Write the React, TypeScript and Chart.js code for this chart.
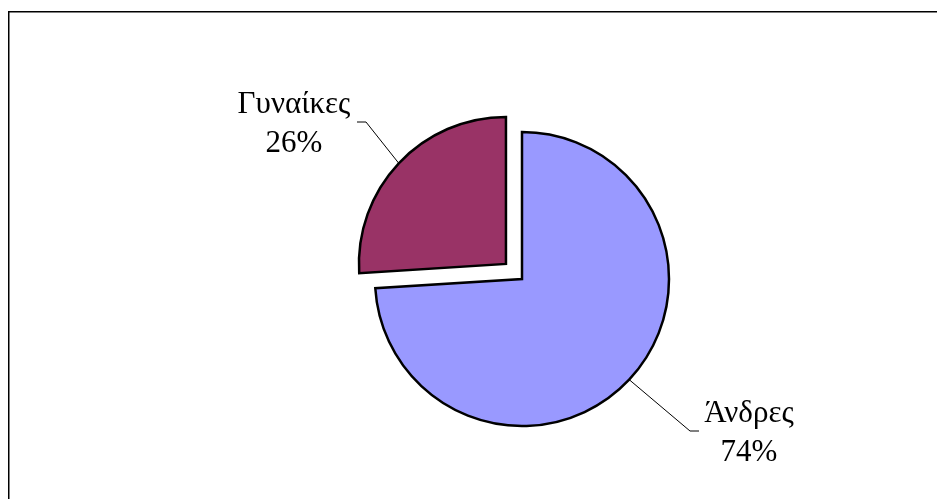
import React, { useEffect, useRef } from "react";
import { Chart, registerables } from "chart.js";

Chart.register(...registerables);

const categories = ["Άνδρες", "Γυναίκες"];
const values = [74, 26];
const percentLabels = ["74%", "26%"];
const colors = ["#9999FF", "#993366"];

// label text anchors (centre x, first baseline y) and leader elbow points
const labelLayout = [
  { tx: 749, ty: 422, ex: 690, ey: 431, hx: 699 },
  { tx: 294, ty: 113, ex: 366, ey: 122, hx: 357 },
];

const labelPlugin = {
  id: "labels",
  afterDraw(chart: any) {
    const ctx = chart.ctx;
    const meta = chart.getDatasetMeta(0);
    ctx.save();
    // outer frame
    ctx.strokeStyle = "#000";
    ctx.lineWidth = 1.5;
    ctx.strokeRect(8.75, 11.75, 2000, 2000);
    meta.data.forEach((arc: any, i: number) => {
      const { x, y, startAngle, endAngle, outerRadius } = arc.getProps(
        ["x", "y", "startAngle", "endAngle", "outerRadius"],
        true
      );
      const mid = (startAngle + endAngle) / 2;
      const off = (arc.options.offset || 0) / 4;
      const cx = x + Math.cos(mid) * off;
      const cy = y + Math.sin(mid) * off;
      const sx = cx + Math.cos(mid) * outerRadius;
      const sy = cy + Math.sin(mid) * outerRadius;
      const L = labelLayout[i];
      ctx.strokeStyle = "#000";
      ctx.lineWidth = 1;
      ctx.beginPath();
      ctx.moveTo(sx, sy);
      ctx.lineTo(L.ex, L.ey);
      ctx.lineTo(L.hx, L.ey);
      ctx.stroke();
      ctx.fillStyle = "#000";
      ctx.font = '31px "Liberation Serif", "Times New Roman", serif';
      ctx.textAlign = "center";
      ctx.textBaseline = "alphabetic";
      ctx.fillText(categories[i], L.tx, L.ty);
      ctx.fillText(percentLabels[i], L.tx, L.ty + 39);
    });
    ctx.restore();
  },
};

export default function App() {
  const ref = useRef<HTMLCanvasElement>(null);
  useEffect(() => {
    document.body.style.margin = "0";
    document.body.style.overflow = "hidden";
    const chart = new Chart(ref.current!, {
      type: "pie",
      data: {
        labels: categories,
        datasets: [
          {
            data: values,
            backgroundColor: colors,
            borderColor: "#000",
            borderWidth: 2.5,
            borderJoinStyle: "miter",
            offset: [0, 88],
            radius: 147,
          } as any,
        ],
      },
      options: {
        animation: false,
        responsive: false,
        events: [],
        layout: { padding: { left: 107, top: 59, right: 0, bottom: 0 } },
        plugins: {
          legend: { display: false },
          tooltip: { enabled: false },
        },
      },
      plugins: [labelPlugin],
    });
    return () => chart.destroy();
  }, []);
  return (
    <div style={{ width: 937, height: 499, background: "#fff" }}>
      <canvas ref={ref} width={937} height={499} style={{ display: "block" }} />
    </div>
  );
}
